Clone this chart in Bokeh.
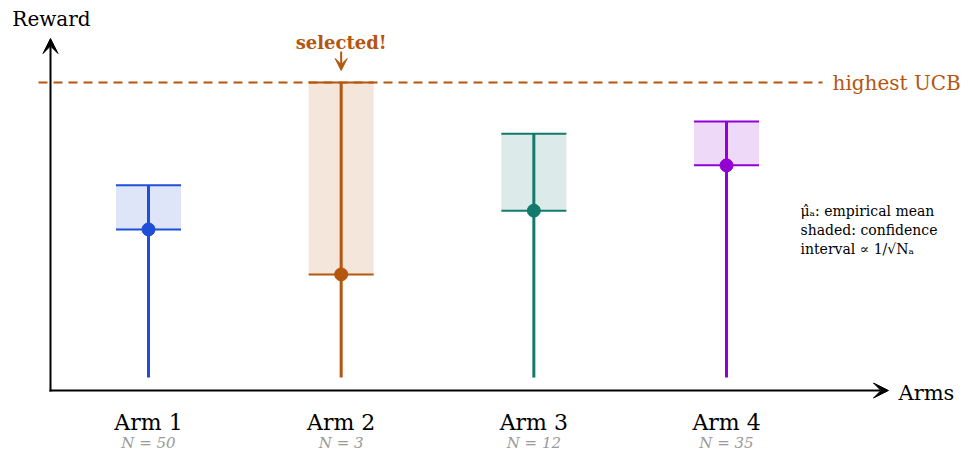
from bokeh.plotting import figure
from bokeh.models import Range1d, Arrow, VeeHead, ColumnDataSource
from bokeh.core.properties import value
from bokeh.embed import file_html
from bokeh.resources import INLINE

# ---- data ----
arms = ["Arm 1", "Arm 2", "Arm 3", "Arm 4"]
pulls = ["N = 50", "N = 3", "N = 12", "N = 35"]
arm_x = [1, 2, 3, 4]
means = [0.523, 0.377, 0.584, 0.731]
ucbs = [0.666, 1.000, 0.834, 0.873]
stem_bottom = [0.042, 0.042, 0.042, 0.042]
colors = ["#1f4fd8", "#b5560f", "#137a6e", "#9400d3"]
selected_index = 1

# ---- layout helpers (reference pixel -> data coordinate) ----
PX_PER_X = 192.67
PX_PER_Y = 308.0
def sx(px):
    return 1 + (px - 148) / PX_PER_X
def sy(py):
    return (390 - py) / PX_PER_Y

W, H = 961, 452
p = figure(width=W, height=H, output_backend="svg", toolbar_location=None,
           x_range=Range1d(sx(0), sx(W)), y_range=Range1d(sy(H), sy(0)),
           x_axis_type=None, y_axis_type=None, min_border=0)
p.outline_line_color = None
p.grid.visible = False
p.background_fill_color = "white"

SERIF = "DejaVu Serif"
half = 32.5 / PX_PER_X

src = ColumnDataSource(dict(x=arm_x, mean=means, ucb=ucbs, bot=stem_bottom,
                            left=[a - half for a in arm_x], right=[a + half for a in arm_x],
                            color=colors, arm=arms, n=pulls))

# highest UCB dashed line
top_ucb = max(ucbs)
orange = colors[selected_index]
p.line([sx(38), sx(822)], [top_ucb, top_ucb], line_color=orange, line_width=2,
       line_dash="9 6")
p.text([sx(832)], [top_ucb], text=["highest UCB"], text_color=orange,
       text_font=value(SERIF), text_font_size="20px", text_align="left",
       text_baseline="middle")

# shaded confidence boxes
p.quad(left="left", right="right", bottom="mean", top="ucb", source=src,
       fill_color="color", fill_alpha=0.15, line_color=None)
# box edges
p.segment(x0="left", x1="right", y0="ucb", y1="ucb", source=src, line_color="color", line_width=2)
p.segment(x0="left", x1="right", y0="mean", y1="mean", source=src, line_color="color", line_width=2)
# stems
p.segment(x0="x", x1="x", y0="bot", y1="ucb", source=src, line_color="color", line_width=3)
# mean dots
p.scatter(x="x", y="mean", source=src, size=13, fill_color="color", line_color="color")

# axes arrows
p.add_layout(Arrow(end=VeeHead(size=15, fill_color="black", line_color="black", line_width=1),
                   x_start=sx(50), y_start=sy(391), x_end=sx(50), y_end=sy(38),
                   line_width=2, line_color="black"))
p.add_layout(Arrow(end=VeeHead(size=15, fill_color="black", line_color="black", line_width=1),
                   x_start=sx(49), y_start=sy(390), x_end=sx(888), y_end=sy(390),
                   line_width=2, line_color="black"))
p.text([sx(51)], [sy(18)], text=["Reward"], text_font=value(SERIF), text_font_size="20px",
       text_align="center", text_baseline="middle", text_color="black")
p.text([sx(898)], [sy(392)], text=["Arms"], text_font=value(SERIF), text_font_size="21px",
       text_align="left", text_baseline="middle", text_color="black")

# arm labels
p.text(x="x", y=sy(422), source=src, text="arm", text_font=value(SERIF), text_font_size="22px",
       text_align="center", text_baseline="middle", text_color="black")
p.text(x="x", y=sy(442), source=src, text="n", text_font=value(SERIF), text_font_size="15px",
       text_font_style="italic", text_align="center", text_baseline="middle", text_color="#9a9a9a")

# selected annotation
sel_x = arm_x[selected_index]
p.text([sel_x], [sy(42)], text=["selected!"], text_font=value(SERIF), text_font_size="18px",
       text_font_style="bold", text_color=orange, text_align="center", text_baseline="middle")
p.add_layout(Arrow(end=VeeHead(size=12, fill_color=orange, line_color=orange, line_width=1),
                   x_start=sel_x, y_start=sy(51), x_end=sel_x, y_end=sy(70),
                   line_width=2, line_color=orange))

# legend note
notes = ["μ̂ₐ: empirical mean", "shaded: confidence", "interval ∝ 1/√Nₐ"]
p.text([sx(800)] * 3, [sy(210), sy(229), sy(248)], text=notes, text_font=value(SERIF),
       text_font_size="14px", text_align="left", text_baseline="middle", text_color="black")

open("out.html", "w").write(file_html(p, INLINE))
